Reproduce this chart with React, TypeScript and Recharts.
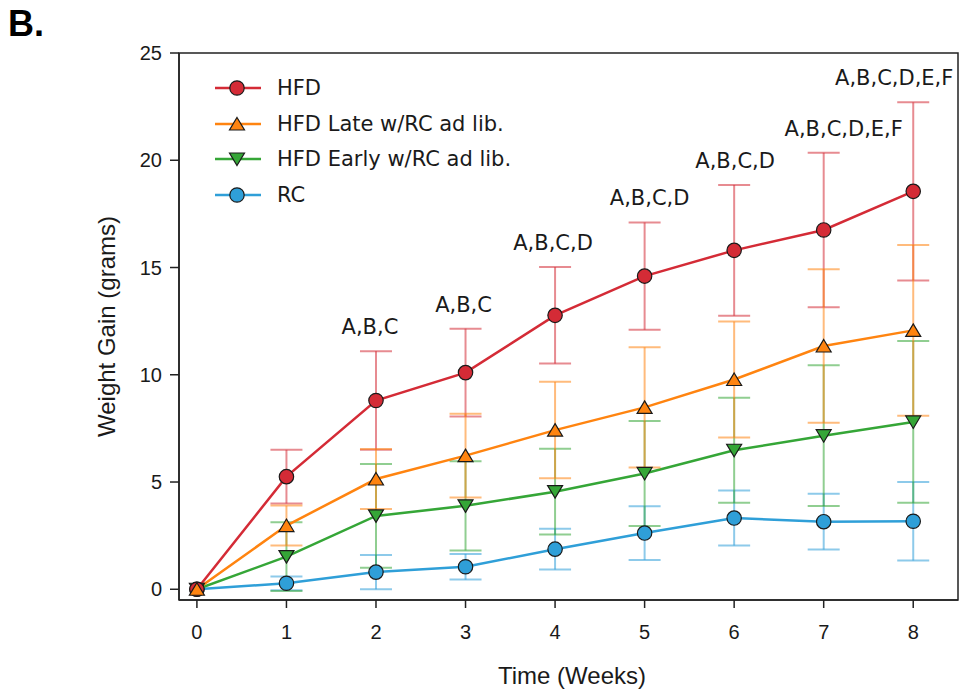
import {
  ErrorBar,
  Label,
  LabelList,
  Legend,
  Line,
  LineChart,
  ReferenceArea,
  XAxis,
  YAxis
} from 'recharts';

const weeks = [0, 1, 2, 3, 4, 5, 6, 7, 8];
const hfd = [0, 5.25, 8.8, 10.1, 12.77, 14.6, 15.8, 16.75, 18.55];
const hfdErr = [null, 1.25, 2.3, 2.05, 2.25, 2.5, 3.05, 3.6, 4.15];
const hfdLate = [0, 2.97, 5.14, 6.23, 7.42, 8.48, 9.78, 11.34, 12.07];
const hfdLateErr = [null, 0.93, 1.4, 1.95, 2.25, 2.8, 2.7, 3.58, 3.98];
const hfdEarly = [0, 1.52, 3.42, 3.89, 4.55, 5.4, 6.48, 7.16, 7.8];
const hfdEarlyErr = [null, 1.6, 2.42, 2.08, 2.0, 2.45, 2.45, 3.28, 3.77];
const rc = [0, 0.28, 0.8, 1.05, 1.87, 2.62, 3.32, 3.15, 3.17];
const rcErr = [null, 0.32, 0.8, 0.6, 0.95, 1.25, 1.28, 1.3, 1.83];
const sigLabels = ['', '', 'A,B,C', 'A,B,C', 'A,B,C,D', 'A,B,C,D', 'A,B,C,D', 'A,B,C,D,E,F', 'A,B,C,D,E,F'];
const yTicks = [0, 5, 10, 15, 20, 25];

const data = weeks.map((week, i) => ({
  week,
  hfd: hfd[i],
  hfdErr: hfdErr[i],
  hfdLate: hfdLate[i],
  hfdLateErr: hfdLateErr[i],
  hfdEarly: hfdEarly[i],
  hfdEarlyErr: hfdEarlyErr[i],
  rc: rc[i],
  rcErr: rcErr[i],
  sigTop: hfdErr[i] == null ? null : hfd[i] + (hfdErr[i] as number),
  sig: sigLabels[i]
}));

const red = '#d42b36';
const orange = '#ff8410';
const green = '#35a637';
const blue = '#2f9fd8';
const ink = '#1a1a1a';
const axisFont = '"Liberation Sans", Arial, sans-serif';
const labelFont = '"DejaVu Sans", Verdana, sans-serif';

// small horizontal nudges for the significance labels, like the hand-placed originals
const labelDx = [0, 0, -6, -2, -2, 5, 1, 20, -19];

type Shape = 'circle' | 'up' | 'down';

function marker(shape: Shape, cx: number, cy: number, fill: string, key?: string) {
  if (shape === 'circle') {
    return <circle key={key} cx={cx} cy={cy} r={7.2} fill={fill} stroke={ink} strokeWidth={1.2} />;
  }
  const d =
    shape === 'up'
      ? `M${cx},${cy - 6.5} L${cx + 7.5},${cy + 6} L${cx - 7.5},${cy + 6} Z`
      : `M${cx},${cy + 6.5} L${cx + 7.5},${cy - 6} L${cx - 7.5},${cy - 6} Z`;
  return <path key={key} d={d} fill={fill} stroke={ink} strokeWidth={1.2} strokeLinejoin="miter" />;
}

const dotFor = (shape: Shape, fill: string) => (props: any) => {
  const { cx, cy, index } = props;
  if (cx == null || cy == null) return <g key={`e${index}`} />;
  return marker(shape, cx, cy, fill, `${shape}${index}`);
};

const series = [
  { key: 'hfd', name: 'HFD', color: red, shape: 'circle' as Shape },
  { key: 'hfdLate', name: 'HFD Late w/RC ad lib.', color: orange, shape: 'up' as Shape },
  { key: 'hfdEarly', name: 'HFD Early w/RC ad lib.', color: green, shape: 'down' as Shape },
  { key: 'rc', name: 'RC', color: blue, shape: 'circle' as Shape }
];

function LegendBox() {
  return (
    <div>
      {series.map((s) => (
        <div key={s.key} style={{ display: 'flex', alignItems: 'center', height: 35.7 }}>
          <svg width={48} height={20} style={{ overflow: 'visible' }}>
            <line x1={2} x2={48} y1={10} y2={10} stroke={s.color} strokeWidth={2.5} />
            {marker(s.shape, 24, 10, s.color)}
          </svg>
          <span style={{ marginLeft: 16, fontFamily: labelFont, fontSize: 21, color: ink, whiteSpace: 'nowrap' }}>
            {s.name}
          </span>
        </div>
      ))}
    </div>
  );
}

function SigLabel(props: any) {
  const { x, y, value, index } = props;
  if (!value) return null;
  return (
    <text x={x + (labelDx[index] ?? 0)} y={y - 17} textAnchor="middle" fontFamily={labelFont} fontSize={21} fill={ink}>
      {value}
    </text>
  );
}

function XTick(props: any) {
  const { x, y, payload } = props;
  return (
    <text x={x} y={y + 15} textAnchor="middle" fontFamily={axisFont} fontSize={20} fill={ink}>
      {payload.value}
    </text>
  );
}

function YTick(props: any) {
  const { x, y, payload } = props;
  return (
    <text x={x} y={y + 7} textAnchor="end" fontFamily={axisFont} fontSize={20} fill={ink}>
      {payload.value}
    </text>
  );
}

export default function App() {
  return (
    <div style={{ position: 'relative', width: 960, height: 692, background: '#fff' }}>
      <style>{`body{margin:0;background:#fff}`}</style>
      <div
        style={{
          position: 'absolute',
          left: 8,
          top: 6,
          fontFamily: axisFont,
          fontWeight: 700,
          fontSize: 36,
          lineHeight: 1,
          color: '#000',
          zIndex: 2
        }}
      >
        B.
      </div>
      <LineChart width={960} height={692} data={data} margin={{ top: 53, right: 2, bottom: 32, left: 99 }}>
        <XAxis
          dataKey="week"
          type="number"
          domain={[-0.2, 8.5]}
          ticks={weeks}
          allowDataOverflow
          height={60}
          tickSize={8}
          tickMargin={16}
          axisLine={{ stroke: '#222', strokeWidth: 1.5 }}
          tickLine={{ stroke: '#222', strokeWidth: 1.5 }}
          tick={<XTick />}
        >
          <Label
            content={() => (
              <text x={572} y={684} textAnchor="middle" fontFamily={axisFont} fontSize={24} fill={ink}>
                Time (Weeks)
              </text>
            )}
          />
        </XAxis>
        <YAxis
          type="number"
          domain={[-0.5, 25]}
          ticks={yTicks}
          allowDataOverflow
          width={80}
          tickSize={9}
          tickMargin={8}
          axisLine={{ stroke: '#222', strokeWidth: 1.5 }}
          tickLine={{ stroke: '#222', strokeWidth: 1.5 }}
          tick={<YTick />}
        >
          <Label
            content={(p: any) => {
              const vb = p.viewBox || {};
              const cy = (vb.y ?? 53) + (vb.height ?? 547) / 2;
              return (
                <text
                  transform={`translate(106,${cy}) rotate(-90)`}
                  textAnchor="middle"
                  dominantBaseline="central"
                  fontFamily={axisFont}
                  fontSize={24}
                  fill={ink}
                >
                  Weight Gain (grams)
                </text>
              );
            }}
          />
        </YAxis>
        <ReferenceArea x1={-0.2} x2={8.5} y1={-0.5} y2={25} fill="none" stroke="#222" strokeWidth={1.5} />
        <Legend
          layout="vertical"
          align="center"
          verticalAlign="middle"
          wrapperStyle={{ left: 213, top: 70, width: 320 }}
          content={() => <LegendBox />}
        />
        <Line dataKey="rc" name="RC" stroke={blue} strokeWidth={2.5} dot={dotFor('circle', blue)} activeDot={false} isAnimationActive={false}>
          <ErrorBar dataKey="rcErr" direction="y" width={16} stroke={blue} strokeWidth={2} strokeOpacity={0.55} />
        </Line>
        <Line dataKey="hfdEarly" name="HFD Early w/RC ad lib." stroke={green} strokeWidth={2.5} dot={dotFor('down', green)} activeDot={false} isAnimationActive={false}>
          <ErrorBar dataKey="hfdEarlyErr" direction="y" width={16} stroke={green} strokeWidth={2} strokeOpacity={0.55} />
        </Line>
        <Line dataKey="hfd" name="HFD" stroke={red} strokeWidth={2.5} dot={dotFor('circle', red)} activeDot={false} isAnimationActive={false}>
          <ErrorBar dataKey="hfdErr" direction="y" width={16} stroke={red} strokeWidth={2} strokeOpacity={0.55} />
        </Line>
        <Line dataKey="hfdLate" name="HFD Late w/RC ad lib." stroke={orange} strokeWidth={2.5} dot={dotFor('up', orange)} activeDot={false} isAnimationActive={false}>
          <ErrorBar dataKey="hfdLateErr" direction="y" width={16} stroke={orange} strokeWidth={2} strokeOpacity={0.55} />
        </Line>
        <Line dataKey="sigTop" stroke="none" dot={false} activeDot={false} legendType="none" isAnimationActive={false}>
          <LabelList dataKey="sig" content={SigLabel} />
        </Line>
      </LineChart>
    </div>
  );
}
